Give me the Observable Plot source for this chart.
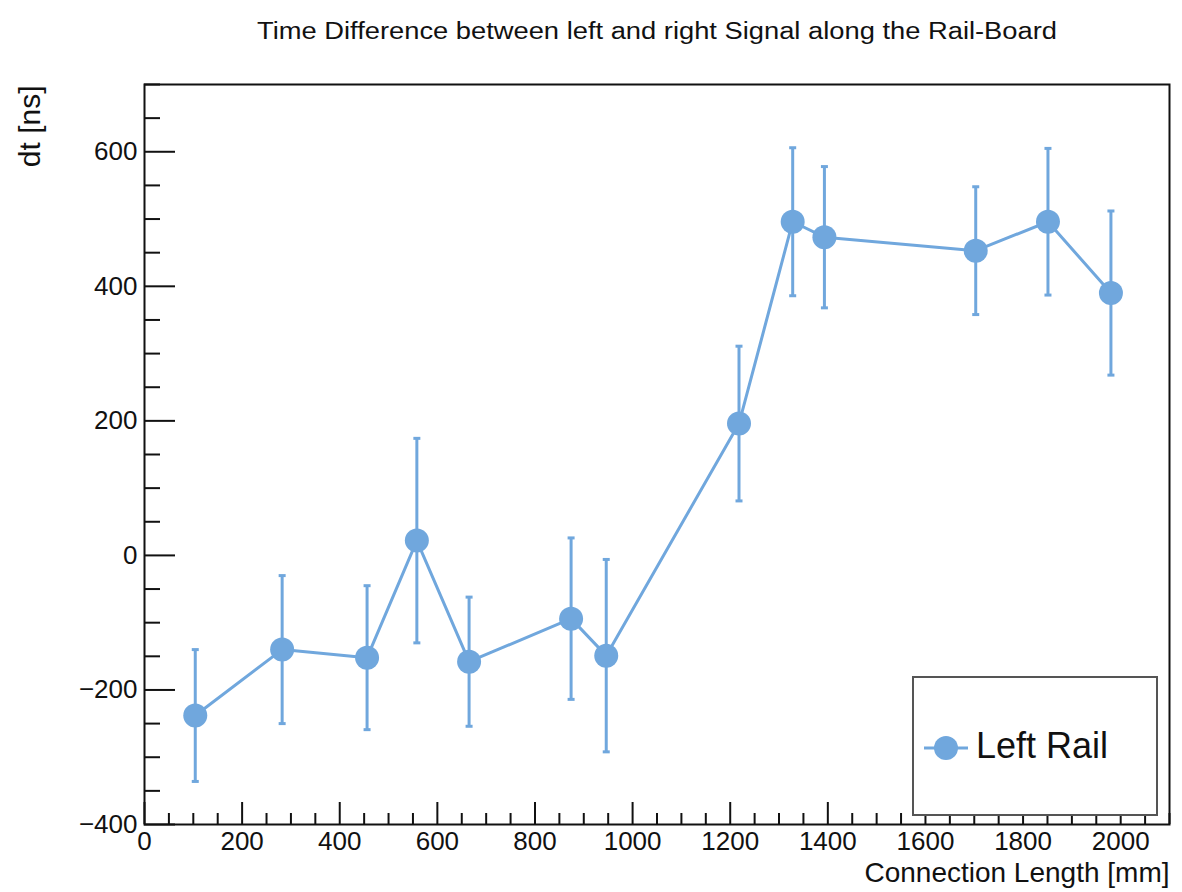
<!DOCTYPE html>
<html>
<head>
<meta charset="utf-8">
<script src="https://cdn.jsdelivr.net/npm/d3@7"></script>
<script src="https://cdn.jsdelivr.net/npm/@observablehq/plot@0.6"></script>
<style>
  body { margin: 0; background: #fff; }
  #wrap { position: relative; width: 1182px; height: 892px; font-family: "Liberation Sans", Arial, Helvetica, sans-serif; }
  #legend { position: absolute; left: 912px; top: 676px; width: 242px; height: 136px; border: 2px solid #555; background: #fff; }
  #legend svg { position: absolute; left: 8px; top: 55px; }
  #legend span { position: absolute; left: 62px; top: 47px; font-size: 36px; color: #111; }
</style>
</head>
<body>
<div id="wrap"></div>
<script>
const title = "Time Difference between left and right Signal along the Rail-Board";
const xLabel = "Connection Length [mm]";
const yLabel = "dt [ns]";
const seriesName = "Left Rail";
const lengths = [104, 282, 456, 558, 665, 874, 946, 1218, 1328, 1393, 1703, 1851, 1980];
const dt      = [-238, -140, -152, 22, -158, -94, -149, 196, 496, 473, 453, 496, 390];
const dtErr   = [98, 110, 107, 152, 96, 120, 143, 115, 110, 105, 95, 109, 122];
const xMajor = d3.range(0, 2001, 200);
const xMinor = d3.range(0, 2101, 50).filter(v => v % 200 !== 0);
const yMajor = d3.range(-400, 601, 200);
const yMinor = d3.range(-400, 701, 50).filter(v => v % 200 !== 0);
const color = "#70a7dd";

const data = lengths.map((x, i) => ({x, y: dt[i], lo: dt[i] - dtErr[i], hi: dt[i] + dtErr[i]}));
const cap = {draw(ctx) { ctx.moveTo(-3.5, 0); ctx.lineTo(3.5, 0); }};
const font = "Liberation Sans, Arial, Helvetica, sans-serif";

const chart = Plot.plot({
  width: 1182, height: 892,
  marginLeft: 144, marginRight: 13, marginTop: 84, marginBottom: 68,
  style: {fontFamily: font, background: "#fff", color: "#111"},
  x: {domain: [0, 2100]},
  y: {domain: [-400, 700]},
  marks: [
    Plot.frame({stroke: "#111", strokeWidth: 2}),
    // ticks (inward)
    Plot.axisX({ticks: xMajor, tickSize: -22, tickFormat: () => "", label: null, strokeWidth: 2}),
    Plot.axisX({ticks: xMinor, tickSize: -11, tickFormat: () => "", label: null, strokeWidth: 2}),
    Plot.axisY({ticks: yMajor, tickSize: -31, tickFormat: () => "", label: null, strokeWidth: 2}),
    Plot.axisY({ticks: yMinor, tickSize: -16, tickFormat: () => "", label: null, strokeWidth: 2}),
    // labels
    Plot.axisX({ticks: xMajor, tickSize: 0, tickPadding: 7, label: null, fontSize: 26, tickFormat: d3.format("d")}),
    Plot.axisY({ticks: yMajor, tickSize: 0, tickPadding: 7, label: null, fontSize: 26, tickFormat: d => d < 0 ? "\u2212" + Math.abs(d) : String(d)}),
    Plot.text([title], {frameAnchor: "top", dy: -62, fontSize: 23, fill: "#111", className: "ttl"}),
    Plot.text([yLabel], {frameAnchor: "top-left", dx: -126, dy: 1, rotate: -90, textAnchor: "end", fontSize: 30, fill: "#111"}),
    Plot.text([xLabel], {frameAnchor: "bottom-right", dy: 57, textAnchor: "end", fontSize: 28, fill: "#111"}),
    // data
    Plot.ruleX(data, {x: "x", y1: "lo", y2: "hi", stroke: color, strokeWidth: 3}),
    Plot.dot(data, {x: "x", y: "lo", symbol: cap, stroke: color, strokeWidth: 3}),
    Plot.dot(data, {x: "x", y: "hi", symbol: cap, stroke: color, strokeWidth: 3}),
    Plot.line(data, {x: "x", y: "y", stroke: color, strokeWidth: 3}),
    Plot.dot(data, {x: "x", y: "y", r: 12, fill: color, stroke: "none"})
  ]
});
const wrap = document.getElementById("wrap");
wrap.appendChild(chart);
d3.select(chart).selectAll("g.ttl text").attr("textLength", 800).attr("lengthAdjust", "spacingAndGlyphs");

const legend = document.createElement("div");
legend.id = "legend";
legend.innerHTML = `<svg width="50" height="30"><line x1="2" y1="15" x2="46" y2="15" stroke="${color}" stroke-width="3"/><circle cx="24" cy="15" r="12" fill="${color}"/></svg><span>${seriesName}</span>`;
wrap.appendChild(legend);
</script>
</body>
</html>
